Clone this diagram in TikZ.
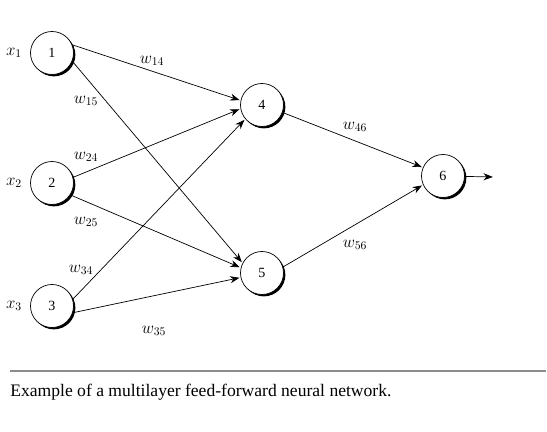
\documentclass[tikz,border=0pt]{standalone}
\usepackage{fontspec}
\setmainfont{Liberation Serif}
\usepackage{amsmath}
\usetikzlibrary{shapes, shadows}
\usetikzlibrary{positioning, arrows.meta}

\begin{document}
\begin{tikzpicture}[x=0.03cm, y=-0.03cm, ->, >={Stealth[length=8pt,width=6pt]}, shorten >=1pt, semithick,
    unit/.style={circle, draw, fill=white, minimum size=1.29cm, inner sep=0pt, font=\large,
        drop shadow={shadow xshift=1.6pt, shadow yshift=-1.6pt, fill=black, opacity=1}},
    weight/.style={font=\Large},
    input/.style={font=\Large}]
    \useasboundingbox (0,0) rectangle (547,432);

    \node[unit] (n1) at (52,53) {1};
    \node[unit] (n2) at (52,183) {2};
    \node[unit] (n3) at (52,306) {3};

    \node[unit] (n4) at (262,105) {4};
    \node[unit] (n5) at (262,273) {5};

    \node[unit] (n6) at (443,176) {6};
    \coordinate (out) at (494,177);

    \node[input] (x1) at (14,53) {$x_1$};
    \node[input] (x2) at (14,183) {$x_2$};
    \node[input] (x3) at (14,306) {$x_3$};

    \node[weight] (w14) at (152,61) {$w_{14}$};
    \node[weight] (w15) at (86,101) {$w_{15}$};
    \node[weight] (w24) at (86,157) {$w_{24}$};
    \node[weight] (w25) at (86,222) {$w_{25}$};
    \node[weight] (w34) at (81,270) {$w_{34}$};
    \node[weight] (w35) at (154,331) {$w_{35}$};
    \node[weight] (w46) at (355,127) {$w_{46}$};
    \node[weight] (w56) at (355,245) {$w_{56}$};

    \path
            (n1.22) edge (n4.168)
            (n1.-22) edge (n5.153)
            (n2.15) edge (n4.-170)
            (n2.-33) edge (n5.166)
            (n3.18) edge (n4.-140)
            (n3.-18) edge (n5.-168)

            (n4.-20) edge (n6.157)
            (n5.16) edge (n6.-156)
            (n6) edge (out)
            ;

    \draw[-, gray!90, line width=1.6pt] (10,371) coordinate (rl) -- (547,371) coordinate (rr);
    \node[anchor=west, inner sep=0pt, font=\fontsize{15}{18}\selectfont] (caption) at (10,392)
        {Example of a multilayer feed-forward neural network.};
\end{tikzpicture}
\end{document}
